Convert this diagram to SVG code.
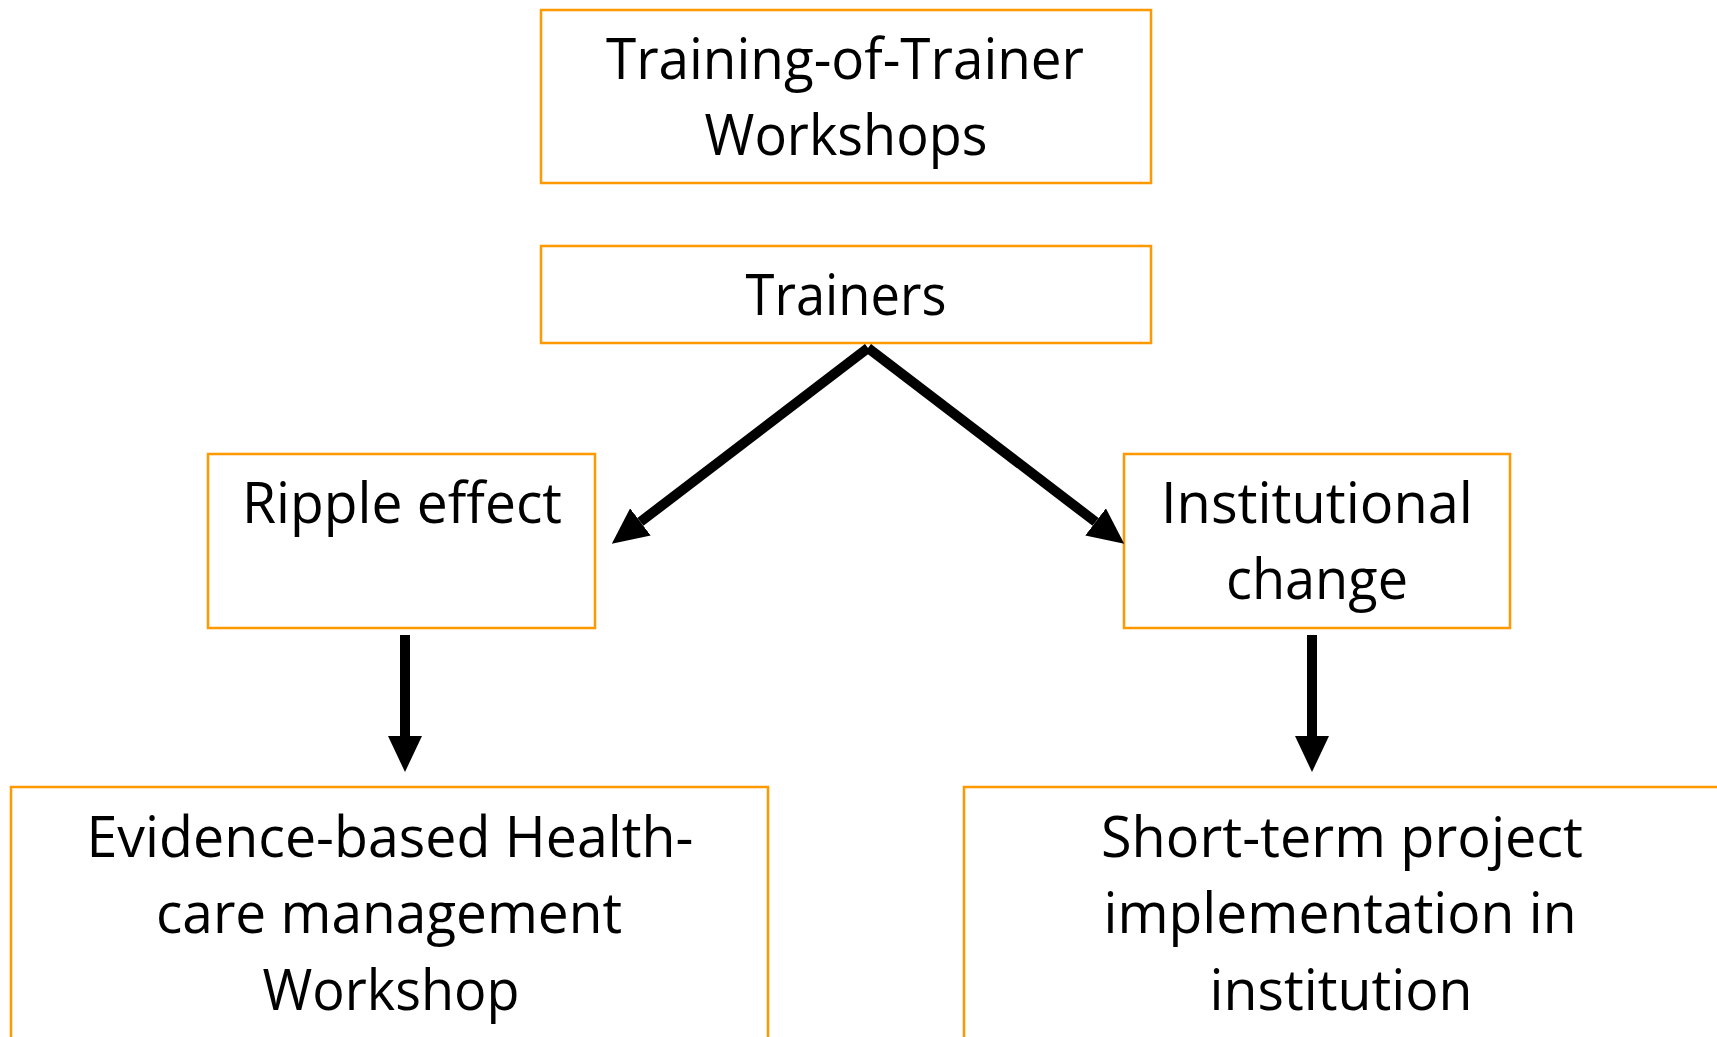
<svg xmlns="http://www.w3.org/2000/svg" width="1717" height="1037" viewBox="0 0 1717 1037">
<style>
.box{fill:#fff;stroke:#FF9900;stroke-width:2.5}
.t{font-family:"Open Sans","Liberation Sans",sans-serif;font-size:57px;fill:#000;text-anchor:middle}
.c{stroke:#000;stroke-width:10;fill:none;marker-end:url(#ah)}
</style>
<defs>
<marker id="ah" markerUnits="userSpaceOnUse" viewBox="0 0 36 34" refX="0" refY="17" markerWidth="36" markerHeight="34" orient="auto">
<path d="M0,0 L36,17 L0,34 z" fill="#000"/>
</marker>
</defs>
<rect width="1717" height="1037" fill="#fff"/>
<g id="n-tot">
<rect class="box" x="541" y="10" width="610" height="173"/>
<text class="t" x="845" y="79" textLength="478" lengthAdjust="spacingAndGlyphs">Training-of-Trainer</text>
<text class="t" x="846" y="155" textLength="283" lengthAdjust="spacingAndGlyphs">Workshops</text>
</g>
<g id="n-trainers">
<rect class="box" x="541" y="246" width="610" height="97"/>
<text class="t" x="846" y="315" textLength="201" lengthAdjust="spacingAndGlyphs">Trainers</text>
</g>
<g id="n-ripple">
<rect class="box" x="208" y="454" width="387" height="174"/>
<text class="t" x="402" y="523" textLength="320" lengthAdjust="spacingAndGlyphs">Ripple effect</text>
</g>
<g id="n-inst">
<rect class="box" x="1124" y="454" width="386" height="174"/>
<text class="t" x="1317" y="523" textLength="312" lengthAdjust="spacingAndGlyphs">Institutional</text>
<text class="t" x="1317" y="599" textLength="182" lengthAdjust="spacingAndGlyphs">change</text>
</g>
<g id="n-ebhm">
<rect class="box" x="11" y="787" width="757" height="280"/>
<text class="t" x="390" y="857" textLength="607" lengthAdjust="spacingAndGlyphs">Evidence-based Health-</text>
<text class="t" x="389" y="933" textLength="466" lengthAdjust="spacingAndGlyphs">care management</text>
<text class="t" x="391" y="1010" textLength="257" lengthAdjust="spacingAndGlyphs">Workshop</text>
</g>
<g id="n-stp">
<rect class="box" x="964" y="787" width="760" height="280"/>
<text class="t" x="1342" y="857" textLength="482" lengthAdjust="spacingAndGlyphs">Short-term project</text>
<text class="t" x="1340" y="933" textLength="473" lengthAdjust="spacingAndGlyphs">implementation in</text>
<text class="t" x="1341" y="1010" textLength="263" lengthAdjust="spacingAndGlyphs">institution</text>
</g>
<g id="connectors">
<line class="c" x1="868" y1="348" x2="640.4" y2="521.9"/>
<line class="c" x1="868" y1="348" x2="1095.6" y2="521.9"/>
<line class="c" x1="405" y1="635" x2="405" y2="736"/>
<line class="c" x1="1312" y1="635" x2="1312" y2="736"/>
</g>
</svg>
